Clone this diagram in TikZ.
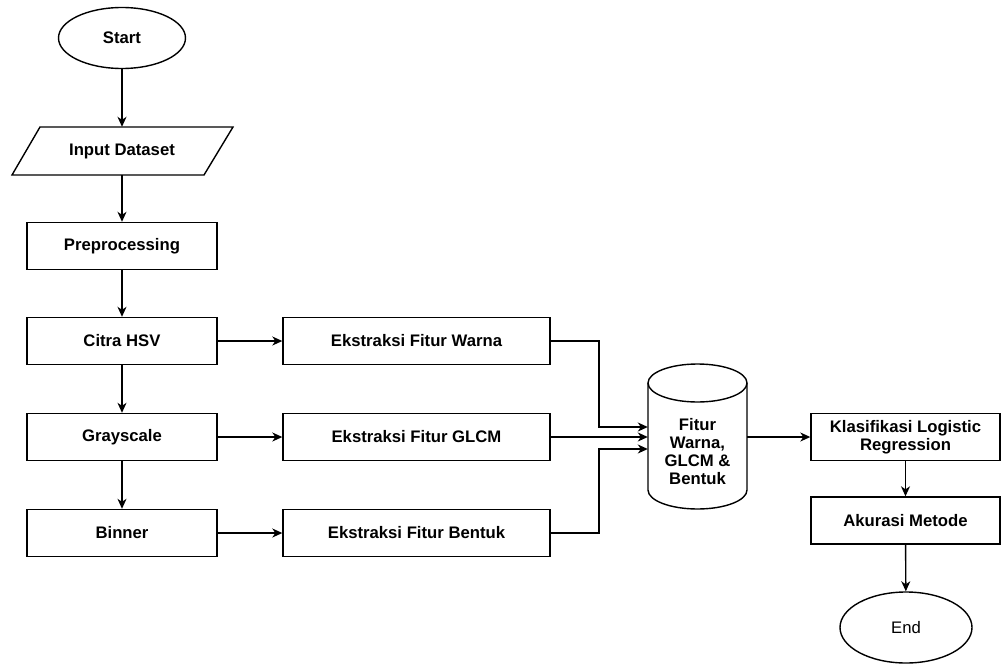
\documentclass[tikz,border=0pt]{standalone}
\usepackage{fontspec}
\setmainfont{Liberation Sans}
\usetikzlibrary{arrows.meta,shapes.geometric}
\begin{document}
\begin{tikzpicture}[x=1pt,y=-1pt,
  lw/.style={line width=1.4pt},
  txt/.style={font=\fontsize{16.7}{18}\selectfont\bfseries, align=center, inner sep=0pt},
  box/.style={txt, lw, draw, minimum width=190pt, minimum height=47pt},
  ebox/.style={txt, lw, draw, minimum width=267pt, minimum height=47pt},
  term/.style={txt, lw, draw, ellipse, inner sep=0pt},
  arr/.style={lw, -{Stealth[length=10pt,width=9pt,inset=3pt]}}]
\useasboundingbox (0,0) rectangle (1001,664);
% terminals
\node[term, minimum width=127pt, minimum height=61pt] (start) at (122,38) {Start};
% input parallelogram
\node[txt, minimum width=193pt, minimum height=48pt] (input) at (122,151) {Input Dataset};
\draw[lw] (40,127) -- (233,127) -- (204,175) -- (12,175) -- cycle;
% left column
\node[box] (pre) at (122,246) {Preprocessing};
\node[box] (hsv) at (122,341) {Citra HSV};
\node[box] (gray) at (122,437) {Grayscale};
\node[box] (bin) at (122,533) {Binner};
% extraction
\node[ebox] (ew) at (416.5,341) {Ekstraksi Fitur Warna};
\node[ebox] (eg) at (416.5,437) {Ekstraksi Fitur GLCM};
\node[ebox] (eb) at (416.5,533) {Ekstraksi Fitur Bentuk};
% database cylinder
\node[minimum width=99pt, minimum height=145pt, inner sep=0pt] (db) at (697.5,436.5) {};
\draw[lw, fill=white] (648,383) -- (648,490)
  arc[start angle=180, end angle=360, x radius=49.5pt, y radius=19pt] -- (747,383);
\draw[lw] (697.5,383) ellipse [x radius=49.5pt, y radius=19pt];
\node[txt] (dbt) at (697.5,452) {Fitur\\Warna,\\GLCM \&\\Bentuk};
% right column
\node[box, minimum width=189pt] (kl) at (905.5,437) {Klasifikasi Logistic\\Regression};
\node[box, minimum width=189pt] (ak) at (905.5,520.5) {Akurasi Metode};
\node[term, minimum width=132pt, minimum height=71pt, font=\fontsize{16.7}{18}\selectfont] (end) at (906,627.5) {End};
% junction coordinates
\coordinate (j1) at (599,427);
\coordinate (j2) at (599,449);
% connectors
\draw[arr] (start) -- (input.north);
\draw[arr] (input.south) -- (pre);
\draw[arr] (pre) -- (hsv);
\draw[arr] (hsv) -- (gray);
\draw[arr] (gray) -- (bin);
\draw[arr] (hsv) -- (ew);
\draw[arr] (gray) -- (eg);
\draw[arr] (bin) -- (eb);
\draw[arr] (ew.east) -| (j1) -- (db.west |- j1);
\draw[arr] (eg.east) -- (db.west |- eg.east);
\draw[arr] (eb.east) -| (j2) -- (db.west |- j2);
\draw[arr] (db.east |- kl.west) -- (kl.west);
\draw[arr] (kl) -- (ak);
\draw[arr] (ak) -- (end);
\end{tikzpicture}
\end{document}
